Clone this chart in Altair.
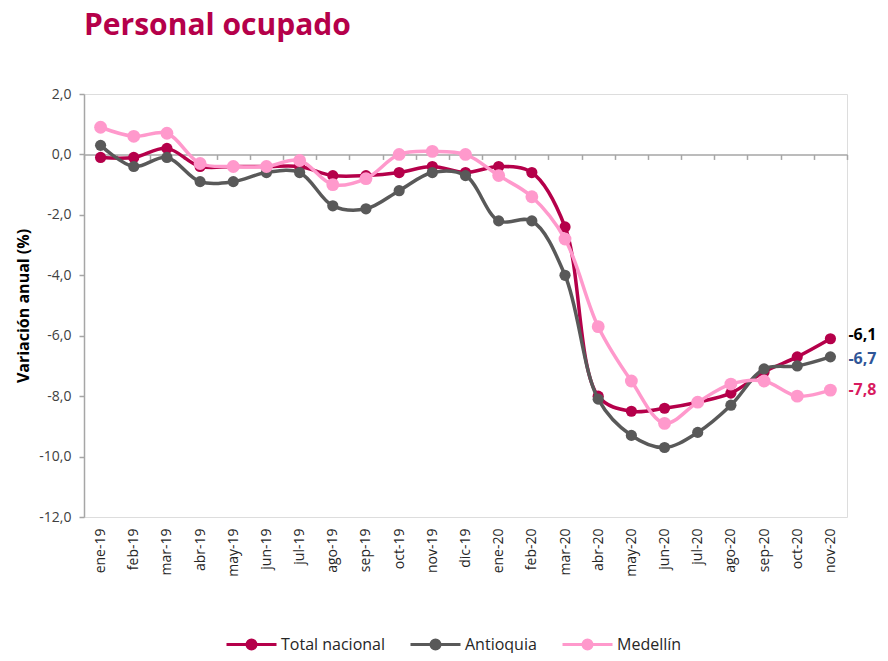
import altair as alt
import pandas as pd

meses = ["ene-19", "feb-19", "mar-19", "abr-19", "may-19", "jun-19", "jul-19",
         "ago-19", "sep-19", "oct-19", "nov-19", "dic-19", "ene-20", "feb-20",
         "mar-20", "abr-20", "may-20", "jun-20", "jul-20", "ago-20", "sep-20",
         "oct-20", "nov-20"]

total_nacional = [-0.1, -0.1, 0.2, -0.4, -0.4, -0.4, -0.4, -0.7, -0.7, -0.6, -0.4, -0.6,
                  -0.4, -0.6, -2.4, -8.0, -8.5, -8.4, -8.2, -7.9, -7.2, -6.7, -6.1]
antioquia = [0.3, -0.4, -0.1, -0.9, -0.9, -0.6, -0.6, -1.7, -1.8, -1.2, -0.6, -0.7,
             -2.2, -2.2, -4.0, -8.1, -9.3, -9.7, -9.2, -8.3, -7.1, -7.0, -6.7]
medellin = [0.9, 0.6, 0.7, -0.3, -0.4, -0.4, -0.2, -1.0, -0.8, 0.0, 0.1, 0.0,
            -0.7, -1.4, -2.8, -5.7, -7.5, -8.9, -8.2, -7.6, -7.5, -8.0, -7.8]

series = ["Total nacional", "Antioquia", "Medellín"]
colores = ["#B5004A", "#595959", "#FF99CC"]
tamanos = [125, 125, 165]
etiquetas = ["-6,1", "-6,7", "-7,8"]
colores_etiqueta = ["#000000", "#2F5597", "#D81B60"]
dy_etiqueta = [-4, 2, 0]

valores = [total_nacional, antioquia, medellin]
rows = []
for s, vals in zip(series, valores):
    for i, (m, v) in enumerate(zip(meses, vals)):
        rows.append({"idx": i, "mes": m, "serie": s, "valor": v})
df = pd.DataFrame(rows)

FONT = "Open Sans"
AXIS_GRAY = "#A6A6A6"

label_array = "[" + ",".join("'" + m + "'" for m in meses) + "]"

y_axis = alt.Axis(
    values=list(range(-12, 3, 2)),
    labelExpr="(datum.value < 0 ? '-' : '') + replace(format(abs(datum.value), '.1f'), '.', ',')",
    grid=False, tickSize=5, tickColor=AXIS_GRAY, domainColor=AXIS_GRAY,
    domainWidth=1.5, tickWidth=1.5,
    labelFont=FONT, labelFontSize=14, labelColor="#404040", labelPadding=8,
    title="Variación anual (%)", titleFont=FONT, titleFontSize=16,
    titleFontWeight="bold", titleColor="#000000", titleAngle=-90,
    titleX=-61, titleY=211.5, titleAlign="center", titleBaseline="middle",
)
y_enc = alt.Y("valor:Q", scale=alt.Scale(domain=[-12, 2], nice=False, zero=False), axis=y_axis)

x_scale = alt.Scale(domain=[-0.5, len(meses) - 0.5], nice=False, zero=False)

label_axis = alt.Axis(
    values=list(range(len(meses))), labelExpr=label_array + "[datum.value]",
    labelAngle=-90, labelFont=FONT, labelFontSize=14, labelColor="#262626",
    labelPadding=11, ticks=False, tickSize=0, domain=False, grid=False, title=None,
)
zero_axis = alt.Axis(
    orient="bottom", offset=-(423 * 12 / 14), values=[i - 0.5 for i in range(len(meses) + 1)],
    labels=False, ticks=True, tickSize=5, tickColor=AXIS_GRAY, tickWidth=1.5,
    domain=True, domainColor=AXIS_GRAY, domainWidth=1.5, grid=False, title=None,
)

SYMBOL = "M-1,0L1,0M0.18,0A0.18,0.18,0,1,1,-0.18,0A0.18,0.18,0,1,1,0.18,0Z"
legend = alt.Legend(
    orient="none", legendX=141, legendY=524, direction="horizontal", title=None,
    symbolType=SYMBOL, symbolSize=2500, symbolStrokeWidth=3,
    labelFont=FONT, labelFontSize=16, labelColor="#262626", labelOffset=3,
    columnPadding=19, symbolOpacity=1,
)
color_enc = alt.Color("serie:N", scale=alt.Scale(domain=series, range=colores),
                      legend=legend, sort=series)

layers = []
for k, (s, size) in enumerate(zip(series, tamanos)):
    base = alt.Chart(df).transform_filter(alt.datum.serie == s)
    ax_line = label_axis if k == 0 else None
    ax_pt = zero_axis if k == 0 else None
    line = base.mark_line(interpolate="catmull-rom", strokeWidth=3.5).encode(
        x=alt.X("idx:Q", scale=x_scale, axis=ax_line),
        y=y_enc, color=color_enc)
    pts = base.mark_circle(size=size, opacity=1).encode(
        x=alt.X("idx:Q", scale=x_scale, axis=ax_pt),
        y=y_enc, color=color_enc)
    layers += [line, pts]

last = df[df["idx"] == len(meses) - 1].reset_index(drop=True)
last["etiqueta"] = etiquetas
for k in range(len(series)):
    t = alt.Chart(last.iloc[[k]]).mark_text(
        align="left", baseline="middle", dx=18, dy=dy_etiqueta[k],
        font=FONT, fontSize=16, fontWeight="bold", color=colores_etiqueta[k],
    ).encode(
        x=alt.X("idx:Q", scale=x_scale, axis=None),
        y=y_enc, text="etiqueta:N")
    layers.append(t)

chart = alt.layer(*layers).resolve_axis(x="independent").properties(
    width=763, height=423,
    autosize=alt.AutoSizeParams(type="none"),
    padding={"left": 76, "top": 86, "right": 33, "bottom": 136},
    title=alt.Title("Personal ocupado", anchor="start", frame="group", fontSize=30,
                    font=FONT, fontWeight="bold", color="#B5004A", offset=22,
                    baseline="alphabetic"),
).configure_view(stroke=None).configure(background="white")

chart.save("out.html", embed_options={"renderer": "svg", "actions": False})
